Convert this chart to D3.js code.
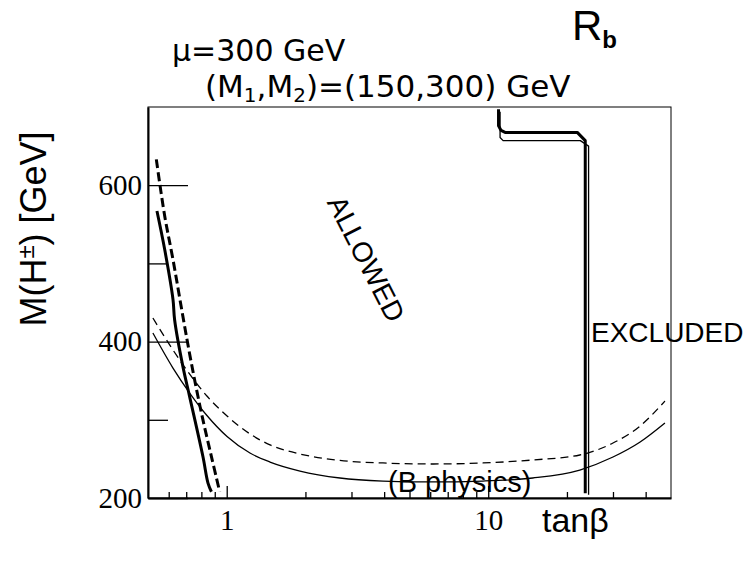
<!DOCTYPE html>
<html>
<head>
<meta charset="utf-8">
<script src="https://cdn.jsdelivr.net/npm/d3@7"></script>
<style>
  body { margin: 0; background: #fff; }
  text { fill: #000; }
</style>
</head>
<body>
<div id="chart"></div>
<script>
// M(H+-) vs tan(beta) exclusion plot, Rb panel

var width = 753;
var height = 561;
var margin = { top: 107, right: 82, bottom: 63, left: 148 };

// axis setup
var xDomain = [0.5, 50];
var yDomain = [200, 700];
var xMajorTicks = [1, 10];
var xMinorTicks = [0.6, 0.7, 0.8, 0.9, 2, 3, 4, 5, 6, 7, 8, 9, 20, 30, 40];
var yMajorTicks = [200, 400, 600];
var yMinorTicks = [300, 500];

// curves: [tan beta, M(H+-) in GeV]
var ewSolid = [[0.541, 567], [0.579, 518], [0.623, 454], [0.632, 428], [0.680, 368],
               [0.721, 330], [0.811, 253], [0.848, 219], [0.874, 208]];
var ewDashed = [[0.538, 633], [0.579, 561], [0.623, 505], [0.680, 432], [0.732, 373],
                [0.800, 309], [0.874, 253], [0.940, 208]];
var bSolid = [[0.522, 411], [0.623, 366.2], [0.724, 333.6], [0.840, 305.5], [1.003, 278.6],
              [1.227, 257.5], [1.464, 246], [1.907, 234.5], [2.71, 225.6], [3.96, 221.7],
              [5.99, 220.5], [9.55, 221.7], [14.8, 225.6], [22.4, 235.8], [30.0, 252.4],
              [38.1, 271.6], [47.4, 295.9]];
var bDashed = [[0.522, 430.2], [0.623, 389.3], [0.724, 357.7], [0.840, 330.4], [1.003, 304.9],
               [1.227, 282], [1.464, 267.9], [1.907, 256.3], [2.71, 248], [3.96, 244.8],
               [5.99, 243.5], [9.55, 244.8], [14.8, 248.6], [22.4, 255], [30.0, 270.3],
               [38.1, 292.1], [47.4, 324]];
var rbThick = [[10.95, 697], [10.95, 676], [11.2, 670], [11.6, 667.5], [21.9, 667.5],
               [23.5, 657], [23.5, 206]];
var rbThin = [[11.1, 694], [11.1, 661], [11.4, 657], [22.5, 657], [24.2, 650],
              [24.2, 204]];

var svg = d3.select("#chart")
    .append("svg")
    .attr("width", width)
    .attr("height", height);

var x = d3.scaleLog()
    .domain(xDomain)
    .range([margin.left, width - margin.right]);
var y = d3.scaleLinear()
    .domain(yDomain)
    .range([height - margin.bottom, margin.top]);

// frame
svg.append("rect")
    .attr("x", margin.left)
    .attr("y", margin.top)
    .attr("width", width - margin.left - margin.right)
    .attr("height", height - margin.top - margin.bottom)
    .attr("fill", "none")
    .attr("stroke", "#000")
    .attr("stroke-width", 1);

var serif = "'Liberation Serif', 'Times New Roman', serif";
var sans = "'Liberation Sans', Arial, sans-serif";
var wide = "'DejaVu Sans', Verdana, sans-serif";

// y axis: ticks point inwards, long major and short minor
var yAxis = svg.append("g")
    .attr("transform", "translate(" + margin.left + ",0)")
    .call(d3.axisLeft(y).tickValues(yMajorTicks).tickSize(-40).tickSizeOuter(0).tickPadding(6));
svg.append("g")
    .attr("transform", "translate(" + margin.left + ",0)")
    .call(d3.axisLeft(y).tickValues(yMinorTicks).tickSize(-20).tickSizeOuter(0).tickFormat(""))
    .select(".domain").remove();

// x axis
var xAxis = svg.append("g")
    .attr("transform", "translate(0," + (height - margin.bottom) + ")")
    .call(d3.axisBottom(x).tickValues(xMajorTicks).tickSize(-12).tickSizeOuter(0)
        .tickPadding(11).tickFormat(d3.format("d")));
svg.append("g")
    .attr("transform", "translate(0," + (height - margin.bottom) + ")")
    .call(d3.axisBottom(x).tickValues(xMinorTicks).tickSize(-6).tickSizeOuter(0).tickFormat(""))
    .select(".domain").remove();

svg.selectAll(".tick line").attr("stroke", "#000").attr("stroke-width", 1.3);
[xAxis, yAxis].forEach(function(a) {
    a.select(".domain").attr("stroke", "#000").attr("stroke-width", 2);
    a.selectAll("text")
        .attr("font-family", serif)
        .attr("font-size", 29)
        .attr("fill", "#000");
});

// curves
var line = d3.line()
    .x(function(d) { return x(d[0]); })
    .y(function(d) { return y(d[1]); });
var smooth = d3.line()
    .x(function(d) { return x(d[0]); })
    .y(function(d) { return y(d[1]); })
    .curve(d3.curveCatmullRom.alpha(0.5));
var mono = d3.line()
    .x(function(d) { return x(d[0]); })
    .y(function(d) { return y(d[1]); })
    .curve(d3.curveMonotoneX);

var curves = [
    { data: ewSolid, gen: smooth, w: 3, dash: null },
    { data: ewDashed, gen: smooth, w: 3, dash: "9,4" },
    { data: bSolid, gen: mono, w: 1.3, dash: null },
    { data: bDashed, gen: mono, w: 1.3, dash: "8,5" },
    { data: rbThick, gen: line, w: 3, dash: null },
    { data: rbThin, gen: line, w: 1.3, dash: null }
];
svg.selectAll(".curve")
    .data(curves)
    .enter()
    .append("path")
    .attr("class", "curve")
    .attr("d", function(d) { return d.gen(d.data); })
    .attr("fill", "none")
    .attr("stroke", "#000")
    .attr("stroke-width", function(d) { return d.w; })
    .attr("stroke-dasharray", function(d) { return d.dash; })
    .attr("stroke-linejoin", "round");

// labels
svg.append("text")
    .attr("x", 172).attr("y", 61)
    .attr("font-family", wide).attr("font-size", 30)
    .text("\u03bc=300 GeV");

var m12 = svg.append("text")
    .attr("x", 205).attr("y", 97)
    .attr("font-family", wide).attr("font-size", 31);
m12.append("tspan").text("(M");
m12.append("tspan").attr("font-size", 20).attr("dy", 5).text("1");
m12.append("tspan").attr("dy", -5).text(",M");
m12.append("tspan").attr("font-size", 20).attr("dy", 5).text("2");
m12.append("tspan").attr("dy", -5).text(")=(150,300) GeV");

var rb = svg.append("text")
    .attr("x", 572).attr("y", 40)
    .attr("font-family", sans).attr("font-size", 42);
rb.append("tspan").text("R");
rb.append("tspan").attr("font-size", 24).attr("dy", 8).attr("font-weight", "bold").text("b");

var yTitle = svg.append("text")
    .attr("transform", "translate(46,229) rotate(-90)")
    .attr("text-anchor", "middle")
    .attr("font-family", sans).attr("font-size", 36);
yTitle.append("tspan").text("M(H");
yTitle.append("tspan").attr("font-size", 24).attr("dy", -12).text("\u00b1");
yTitle.append("tspan").attr("dy", 12).text(") [GeV]");

svg.append("text")
    .attr("x", 542).attr("y", 532)
    .attr("font-family", sans).attr("font-size", 34)
    .text("tan\u03b2");

svg.append("text")
    .attr("transform", "translate(366,259) rotate(63)")
    .attr("text-anchor", "middle")
    .attr("dominant-baseline", "central")
    .attr("font-family", sans).attr("font-size", 28)
    .text("ALLOWED");

svg.append("text")
    .attr("x", 591).attr("y", 342)
    .attr("font-family", sans).attr("font-size", 28)
    .text("EXCLUDED");

svg.append("text")
    .attr("x", 388).attr("y", 492)
    .attr("font-family", sans).attr("font-size", 29)
    .text("(B physics)");
</script>
</body>
</html>
